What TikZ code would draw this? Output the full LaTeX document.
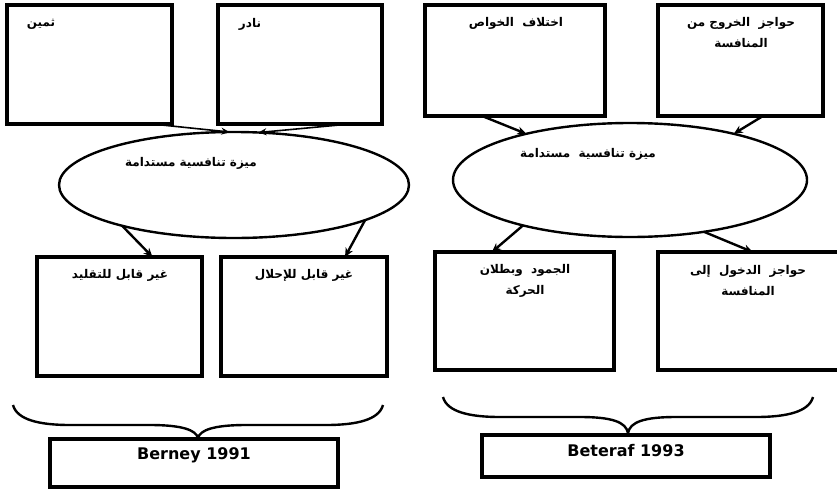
\documentclass[tikz,border=0pt]{standalone}
\usepackage{fontspec}
\setmainfont{DejaVu Sans}
\newfontfamily\arabicfont[Script=Arabic]{DejaVu Sans}
\TeXXeTstate=1
\usetikzlibrary{shapes.geometric,arrows.meta,calc}
\begin{document}
\begin{tikzpicture}[x=1pt,y=-1pt,
  box/.style={draw,line width=3.2pt,minimum width=#1,inner sep=0pt,outer sep=0pt},
  oval/.style={draw,ellipse,line width=2.4pt,inner sep=0pt,outer sep=0pt},
  artext/.style={font=\arabicfont\bfseries\fontsize{12}{21}\selectfont,align=center,inner sep=0pt},
  latext/.style={font=\bfseries\fontsize{16}{18}\selectfont,inner sep=0pt},
  arr/.style={line width=2.4pt,-{Stealth[length=9pt,width=8pt]}},
  thinarr/.style={line width=1.6pt,-{Stealth[length=8pt,width=7pt]}},
  brace/.style={line width=2.4pt}]
\useasboundingbox (0,0) rectangle (837,490);
% left group
\node[box=165pt,minimum height=119pt] (b1) at (89.5,64.5) {};
\node[box=164pt,minimum height=119pt] (b2) at (300,64.5) {};
\node[oval,minimum width=350pt,minimum height=106pt] (e1) at (234,185) {};
\node[box=165pt,minimum height=119pt] (b3) at (119.5,316.5) {};
\node[box=166pt,minimum height=119pt] (b4) at (304,316.5) {};
\node[box=288pt,minimum height=48pt] (bL) at (194,463) {};
\node[artext] (t1) at (41,24) {\beginR ثمين\endR};
\node[artext] (t2) at (250,24) {\beginR نادر\endR};
\node[artext] (te1) at (191,163) {\beginR ميزة تنافسية مستدامة\endR};
\node[artext] (t3) at (120,275) {\beginR غير قابل للتقليد\endR};
\node[artext] (t4) at (304,275) {\beginR غير قابل للإحلال\endR};
\node[latext] (tL) at (194,455) {Berney 1991};
\draw[thinarr] ($(b1.south west)!0.88!(b1.south east)$) -- (e1.95);
\draw[thinarr] ($(b2.south west)!0.805!(b2.south east)$) -- (e1.65);
\draw[arr] (e1.200) -- ($(b3.north west)!0.70!(b3.north east)$);
\draw[arr] (e1.345) -- ($(b4.north west)!0.747!(b4.north east)$);
\draw[brace] (13,405) .. controls (17,420) and (40,425) .. (70,425) -- (150,425)
  .. controls (182,425) and (196,430) .. (198,438)
  .. controls (200,430) and (214,425) .. (246,425) -- (326,425)
  .. controls (356,425) and (379,420) .. (383,405);
% right group
\node[box=180pt,minimum height=111pt] (b5) at (515,60.5) {};
\node[box=165pt,minimum height=111pt] (b6) at (740.5,60.5) {};
\node[oval,minimum width=354pt,minimum height=114pt] (e2) at (630,180) {};
\node[box=179pt,minimum height=118pt] (b7) at (524.5,311) {};
\node[box=182pt,minimum height=118pt] (b8) at (749,311) {};
\node[box=288pt,minimum height=42pt] (bR) at (626,456) {};
\node[artext] (t5) at (516,23) {\beginR اختلاف\ \ الخواص\endR};
\node[artext] (t6) at (741,33) {\beginR حواجز\ \ الخروج من\endR\\\beginR المنافسة\endR};
\node[artext] (te2) at (588,154) {\beginR ميزة تنافسية\ \ مستدامة\endR};
\node[artext] (t7) at (525,280.5) {\beginR الجمود\ \ وبطلان\endR\\\beginR الحركة\endR};
\node[artext] (t8) at (748,280.5) {\beginR حواجز\ \ الدخول\ \ إلى\endR\\\beginR المنافسة\endR};
\node[latext] (tR) at (626,451) {Beteraf 1993};
\draw[arr] ($(b5.south west)!0.317!(b5.south east)$) -- (e2.156);
\draw[arr] ($(b6.south west)!0.636!(b6.south east)$) -- (e2.24);
\draw[arr] (e2.203) -- ($(b7.north west)!0.318!(b7.north east)$);
\draw[arr] (e2.325) -- ($(b8.north west)!0.52!(b8.north east)$);
\draw[brace] (443,397) .. controls (447,412) and (470,417) .. (500,417) -- (580,417)
  .. controls (612,417) and (626,422) .. (628,433)
  .. controls (630,422) and (644,417) .. (676,417) -- (756,417)
  .. controls (786,417) and (809,412) .. (813,397);
\end{tikzpicture}
\end{document}
